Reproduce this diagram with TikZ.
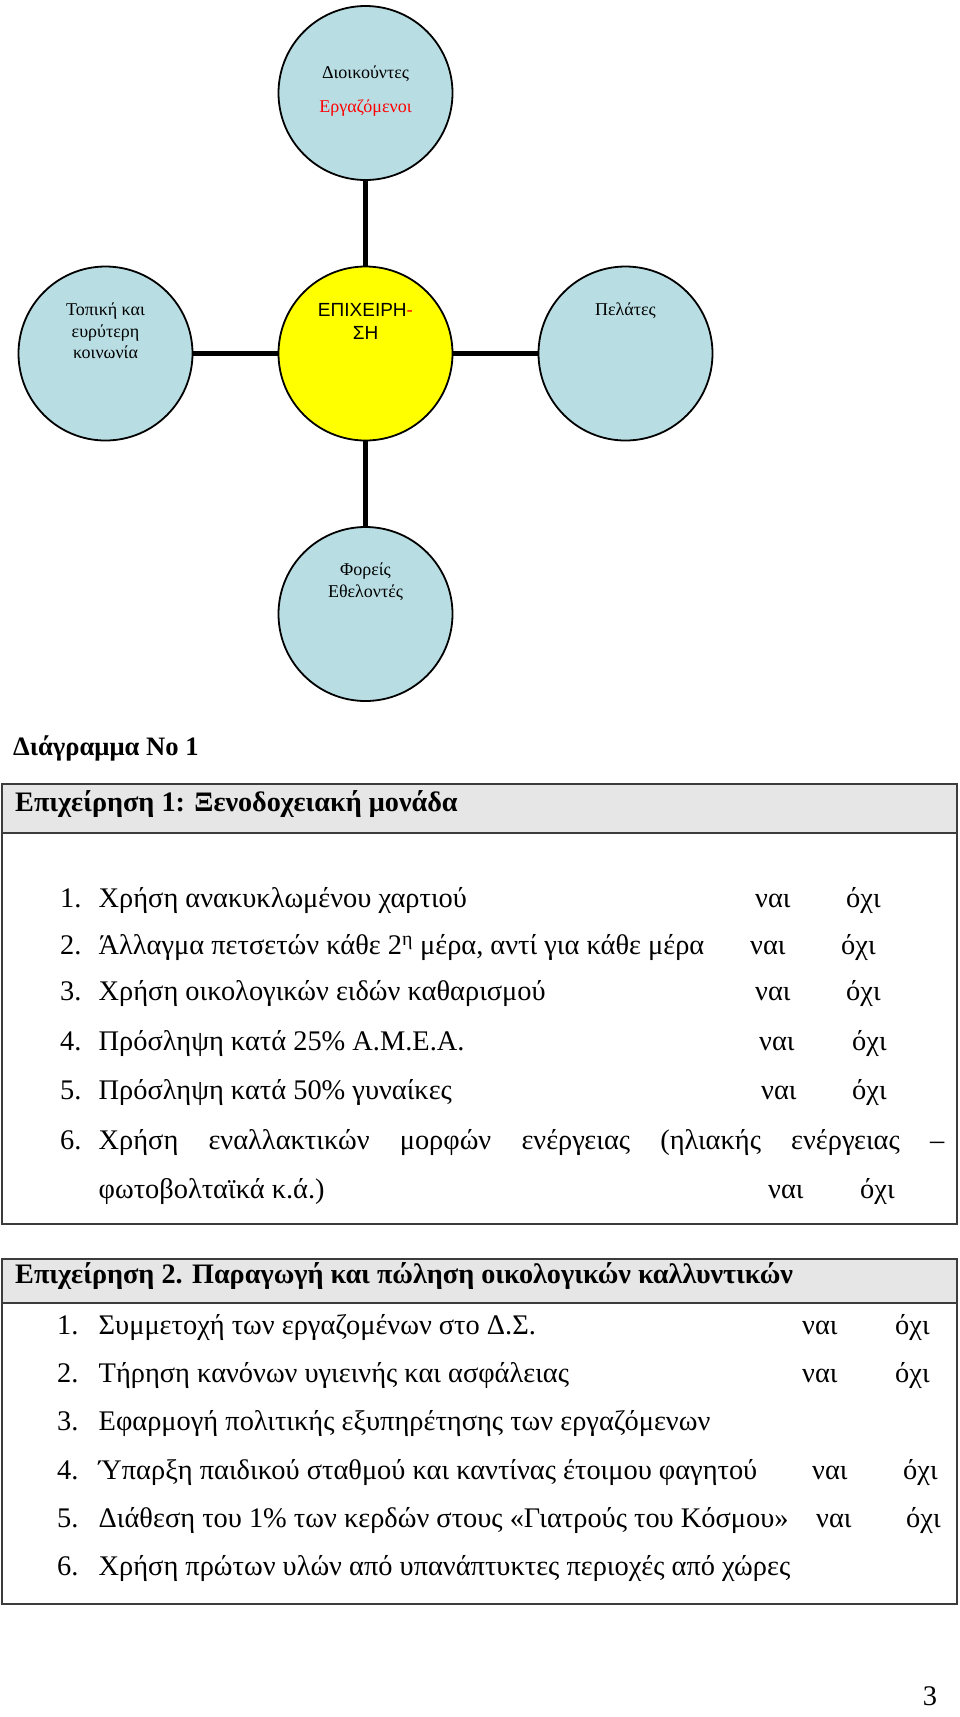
\documentclass[tikz,border=0pt]{standalone}
\usepackage{fontspec}
\setmainfont{Liberation Serif}
\setsansfont{Liberation Sans}
\usetikzlibrary{positioning}
\definecolor{actorblue}{HTML}{B8DEE4}
\definecolor{firmyellow}{HTML}{FFFF00}
\definecolor{headgray}{HTML}{E6E6E6}
\definecolor{frameline}{HTML}{3C3C3C}
\newcommand{\answeryes}{ναι}
\newcommand{\answerno}{όχι}
\newcommand{\itemno}[1]{\makebox[38.5pt][l]{#1}}
\newcommand{\itemnob}[1]{\makebox[41.5pt][l]{#1}}

\begin{document}
\begin{tikzpicture}[
  x=1pt, y=-1pt,
  every node/.style={inner sep=0pt},
  actor/.style={circle, draw=black, line width=1.8pt, fill=actorblue,
                minimum size=174pt},
  firmcircle/.style={actor, fill=firmyellow},
  actortext/.style={font=\fontsize{18}{21.5}\selectfont, align=center, anchor=north},
  link/.style={line width=4.5pt, draw=black},
  entry/.style={font=\fontsize{28.4}{34}\selectfont, anchor=mid west},
  answer/.style={entry},
  heading/.style={font=\fontsize{28.2}{34}\selectfont\bfseries, anchor=mid west},
  tablebox/.style={draw=frameline, line width=2pt}
]
\useasboundingbox (0,0) rectangle (960,1717);
% stakeholder map
\node[actor] (mgmt) at (365.5,93) {};
\node[firmcircle] (firm) at (365.5,353.5) {};
\node[actor] (society) at (105.5,353.5) {};
\node[actor] (clients) at (625.5,353.5) {};
\node[actor] (bodies) at (365.5,614) {};
\draw[link] (mgmt) -- (firm);
\draw[link] (society) -- (firm);
\draw[link] (firm) -- (clients);
\draw[link] (firm) -- (bodies);
\node[actortext] (mgmttext) at (365.5,66) {Διοικούντες\\[12pt]\textcolor{red}{Εργαζόμενοι}};
\node[actortext, font=\sffamily\fontsize{19}{23}\selectfont] (firmtext) at (365.5,303)
  {ΕΠΙΧΕΙΡΗ\textcolor{red}{-}\\ΣΗ};
\node[actortext] (societytext) at (105.5,303) {Τοπική και\\ευρύτερη\\κοινωνία};
\node[actortext] (clientstext) at (625.5,303) {Πελάτες};
\node[actortext] (bodiestext) at (365.5,563) {Φορείς\\Εθελοντές};

\node[heading, font=\fontsize{26.6}{32}\selectfont\bfseries] (diagtitle) at (13,753) {Διάγραμμα No 1};

% business 1
\fill[headgray] (2,784) rectangle (957,833);
\draw[tablebox] (2,784) rectangle (957,1224);
\draw[tablebox] (2,833) -- (957,833);
\node[heading] (hotel) at (15,809) {Επιχείρηση 1: Ξενοδοχειακή μονάδα};
\node[entry] (paper) at (60,905) {\itemno{1.}Χρήση ανακυκλωμένου χαρτιού};
\node[answer] (paperyes) at (755,905) {\answeryes};
\node[answer] (paperno) at (846,905) {\answerno};
\node[entry] (towels) at (60,952) {\itemno{2.}Άλλαγμα πετσετών κάθε 2\textsuperscript{η} μέρα, αντί για κάθε μέρα};
\node[answer] (towelsyes) at (750,952) {\answeryes};
\node[answer] (towelsno) at (841,952) {\answerno};
\node[entry] (cleaning) at (60,998) {\itemno{3.}Χρήση οικολογικών ειδών καθαρισμού};
\node[answer] (cleaningyes) at (755,998) {\answeryes};
\node[answer] (cleaningno) at (846,998) {\answerno};
\node[entry] (disabled) at (60,1048) {\itemno{4.}Πρόσληψη κατά 25\% Α.Μ.Ε.Α.};
\node[answer] (disabledyes) at (759,1048) {\answeryes};
\node[answer] (disabledno) at (852,1048) {\answerno};
\node[entry] (women) at (60,1097) {\itemno{5.}Πρόσληψη κατά 50\% γυναίκες};
\node[answer] (womenyes) at (761,1097) {\answeryes};
\node[answer] (womenno) at (852,1097) {\answerno};
\node[entry] (energy) at (60,1147) {\itemno{6.}\hbox to 845.5pt{Χρήση\hfill εναλλακτικών\hfill
  μορφών\hfill ενέργειας\hfill (ηλιακής\hfill ενέργειας\hfill –}};
\node[entry] (energycont) at (98.5,1196) {φωτοβολταϊκά κ.ά.)};
\node[answer] (energyyes) at (768,1196) {\answeryes};
\node[answer] (energyno) at (860,1196) {\answerno};

% business 2
\fill[headgray] (2,1259) rectangle (957,1303);
\draw[tablebox] (2,1259) rectangle (957,1604);
\draw[tablebox] (2,1303) -- (957,1303);
\node[heading] (cosmetics) at (15,1281) {Επιχείρηση 2. Παραγωγή και πώληση οικολογικών καλλυντικών};
\node[entry] (board) at (57,1332) {\itemnob{1.}Συμμετοχή των εργαζομένων στο Δ.Σ.};
\node[answer] (boardyes) at (802,1332) {\answeryes};
\node[answer] (boardno) at (895,1332) {\answerno};
\node[entry] (hygiene) at (57,1380) {\itemnob{2.}Τήρηση κανόνων υγιεινής και ασφάλειας};
\node[answer] (hygieneyes) at (802,1380) {\answeryes};
\node[answer] (hygieneno) at (895,1380) {\answerno};
\node[entry] (service) at (57,1428) {\itemnob{3.}Εφαρμογή πολιτικής εξυπηρέτησης των εργαζόμενων};
\node[entry] (nursery) at (57,1477) {\itemnob{4.}Ύπαρξη παιδικού σταθμού και καντίνας έτοιμου φαγητού};
\node[answer] (nurseryyes) at (812,1477) {\answeryes};
\node[answer] (nurseryno) at (903,1477) {\answerno};
\node[entry] (doctors) at (57,1525) {\itemnob{5.}Διάθεση του 1\% των κερδών στους «Γιατρούς του Κόσμου»};
\node[answer] (doctorsyes) at (816,1525) {\answeryes};
\node[answer] (doctorsno) at (906,1525) {\answerno};
\node[entry] (rawmat) at (57,1573) {\itemnob{6.}Χρήση πρώτων υλών από υπανάπτυκτες περιοχές από χώρες};

\node[entry, anchor=mid] (pagenum) at (930,1703) {3};
\end{tikzpicture}
\end{document}
